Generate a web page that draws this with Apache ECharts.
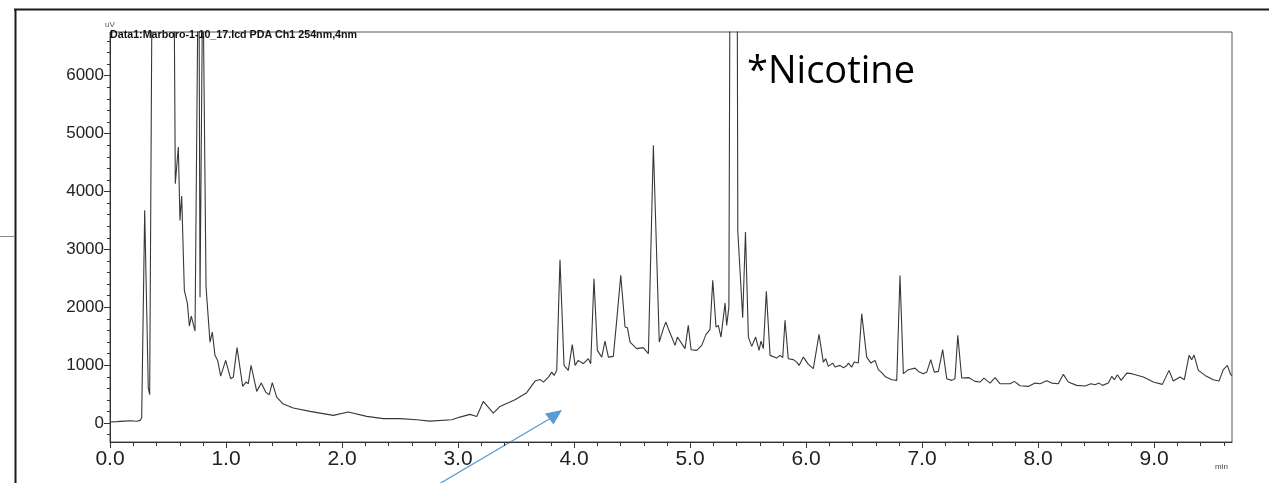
<!DOCTYPE html>
<html>
<head>
<meta charset="utf-8">
<title>Chromatogram 254 nm</title>
<script src="https://cdn.jsdelivr.net/npm/echarts@6/dist/echarts.min.js"></script>
<style>
  html, body { margin: 0; padding: 0; background: #ffffff; }
  #chart { width: 1269px; height: 483px; }
</style>
</head>
<body>
<div id="chart"></div>
<script>
// Retention time (min) of each sampled point of the PDA trace
const retentionTimes = [
  0.000, 0.060, 0.120, 0.180, 0.230, 0.259, 0.273, 0.299, 0.330, 0.342,
  0.375, 0.420, 0.500, 0.548, 0.563, 0.589, 0.603, 0.618, 0.641, 0.667,
  0.684, 0.701, 0.733, 0.765, 0.776, 0.800, 0.828, 0.862, 0.882, 0.905,
  0.928, 0.954, 0.997, 1.040, 1.063, 1.095, 1.144, 1.172, 1.192, 1.216,
  1.265, 1.304, 1.342, 1.373, 1.399, 1.437, 1.489, 1.580, 1.724, 1.925,
  2.054, 2.213, 2.356, 2.500, 2.644, 2.759, 2.946, 3.017, 3.103, 3.161,
  3.218, 3.304, 3.362, 3.491, 3.592, 3.664, 3.707, 3.736, 3.779, 3.808,
  3.828, 3.851, 3.879, 3.914, 3.951, 3.985, 4.009, 4.037, 4.080, 4.123,
  4.144, 4.172, 4.201, 4.239, 4.267, 4.296, 4.339, 4.368, 4.403, 4.440,
  4.460, 4.483, 4.540, 4.597, 4.641, 4.684, 4.735, 4.770, 4.791, 4.813,
  4.842, 4.871, 4.891, 4.929, 4.957, 4.985, 5.009, 5.058, 5.101, 5.138,
  5.172, 5.196, 5.224, 5.244, 5.267, 5.302, 5.316, 5.335, 5.380, 5.412,
  5.454, 5.478, 5.503, 5.532, 5.566, 5.595, 5.612, 5.632, 5.658, 5.690,
  5.747, 5.776, 5.799, 5.819, 5.847, 5.891, 5.920, 5.940, 5.977, 6.020,
  6.063, 6.112, 6.149, 6.170, 6.192, 6.230, 6.250, 6.293, 6.322, 6.351,
  6.365, 6.394, 6.416, 6.451, 6.480, 6.523, 6.560, 6.595, 6.623, 6.653,
  6.681, 6.739, 6.782, 6.810, 6.839, 6.882, 6.940, 6.968, 7.011, 7.041,
  7.075, 7.106, 7.141, 7.155, 7.178, 7.213, 7.256, 7.284, 7.308, 7.342,
  7.405, 7.457, 7.500, 7.534, 7.586, 7.629, 7.672, 7.759, 7.796, 7.845,
  7.916, 7.974, 8.017, 8.075, 8.118, 8.175, 8.218, 8.261, 8.333, 8.405,
  8.457, 8.491, 8.526, 8.555, 8.606, 8.635, 8.658, 8.684, 8.716, 8.765,
  8.808, 8.908, 8.994, 9.072, 9.129, 9.166, 9.224, 9.261, 9.302, 9.325,
  9.345, 9.382, 9.440, 9.511, 9.560, 9.597, 9.632, 9.661, 9.672
];

// Detector signal (uV) at each retention time; off-scale peaks exceed the axis top
const signal = [
  15, 22, 30, 38, 28, 43, 90, 3670, 600, 487,
  12000, 15000, 12000, 9000, 4131, 4763, 3497, 3917, 2288, 2064,
  1672, 1845, 1585, 9000, 2170, 8000, 2345, 1395, 1568, 1166,
  1079, 808, 1079, 763, 791, 1299, 630, 705, 677, 993,
  544, 687, 532, 487, 694, 446, 332, 256, 199, 130,
  187, 112, 73, 73, 55, 31, 55, 100, 147, 112,
  371, 169, 285, 401, 522, 722, 751, 705, 791, 877,
  820, 907, 2819, 993, 907, 1351, 993, 1079, 1022, 1109,
  1022, 2490, 1252, 1136, 1413, 1136, 1149, 1770, 2547, 1655,
  1644, 1395, 1282, 1299, 1195, 4793, 1395, 1627, 1741, 1627,
  1482, 1339, 1482, 1368, 1282, 1684, 1264, 1252, 1339, 1528,
  1610, 2461, 1655, 1684, 1482, 2069, 1684, 2000, 30000, 3300,
  1817, 3295, 1482, 1321, 1482, 1252, 1413, 1282, 2271, 1166,
  1119, 1166, 1126, 1770, 1109, 1092, 1050, 993, 1136, 1010,
  936, 1528, 1050, 1109, 976, 1033, 964, 993, 953, 988,
  1033, 964, 1050, 1033, 1886, 1136, 1033, 1079, 919, 867,
  803, 746, 734, 2547, 850, 919, 946, 889, 850, 877,
  1092, 877, 889, 877, 1264, 763, 734, 763, 1511, 774,
  781, 717, 705, 774, 687, 781, 677, 677, 717, 642,
  630, 687, 677, 729, 687, 677, 838, 705, 648, 636,
  677, 660, 687, 648, 687, 803, 746, 832, 734, 860,
  850, 791, 705, 665, 907, 722, 791, 746, 1166, 1092,
  1171, 907, 820, 746, 722, 919, 993, 832, 820
];

// Axis ticks
const timeMajorTicks = [0, 1, 2, 3, 4, 5, 6, 7, 8, 9];
const timeMinorTicks = [0.2, 0.4, 0.6, 0.8, 1.2, 1.4, 1.6, 1.8, 2.2, 2.4, 2.6, 2.8, 3.2, 3.4, 3.6, 3.8,
  4.2, 4.4, 4.6, 4.8, 5.2, 5.4, 5.6, 5.8, 6.2, 6.4, 6.6, 6.8, 7.2, 7.4, 7.6, 7.8,
  8.2, 8.4, 8.6, 8.8, 9.2, 9.4, 9.6];
const signalMajorTicks = [0, 1000, 2000, 3000, 4000, 5000, 6000];
const signalMinorTicks = [-200, 200, 400, 600, 800, 1200, 1400, 1600, 1800, 2200, 2400, 2600, 2800,
  3200, 3400, 3600, 3800, 4200, 4400, 4600, 4800, 5200, 5400, 5600, 5800, 6200, 6400, 6600];

const traceTitle = 'Data1:Marboro-1-10_17.lcd PDA Ch1 254nm,4nm';
const peakNote = '*Nicotine';

const TIME_MAX = 9.672;
const SIGNAL_MIN = -330;
const SIGNAL_MAX = 6750;

const trace = retentionTimes.map((t, i) => [t, signal[i]]);

const axisColor = '#333333';
const font = 'Liberation Sans, Arial, sans-serif';

// short outward minor tick marks, positioned through the axis scales
function minorTickRenderer(side, len) {
  return function (params, api) {
    const p = api.coord([api.value(0), api.value(1)]);
    if (side === 'left') {
      const y = Math.round(p[1]) + 0.5;
      return { type: 'line', silent: true, shape: { x1: p[0] - len, y1: y, x2: p[0], y2: y },
        style: { stroke: axisColor, lineWidth: 1 } };
    }
    const x = Math.round(p[0]) + 0.5;
    return { type: 'line', silent: true, shape: { x1: x, y1: p[1], x2: x, y2: p[1] + len },
      style: { stroke: axisColor, lineWidth: 1 } };
  };
}

const chart = echarts.init(document.getElementById('chart'), null, { renderer: 'canvas' });

chart.setOption({
  animation: false,
  backgroundColor: '#ffffff',
  grid: {
    left: 110, right: 37, top: 32, bottom: 41,
    show: true, borderColor: '#555555', borderWidth: 1, backgroundColor: 'transparent'
  },
  title: [
    {
      text: traceTitle, left: 110, top: 30, padding: 0,
      textStyle: { fontFamily: font, fontSize: 10.7, fontWeight: 'bold', color: '#111111' }
    },
    {
      text: 'min', left: 1215, top: 463, padding: 0,
      textStyle: { fontFamily: font, fontSize: 8, fontWeight: 'normal', color: '#444444' }
    }
  ],
  xAxis: {
    type: 'value', min: 0, max: TIME_MAX,
    axisLine: { show: true, onZero: false, lineStyle: { color: axisColor, width: 1 } },
    axisTick: { show: true, customValues: timeMajorTicks, length: 6, lineStyle: { color: axisColor } },
    axisLabel: {
      customValues: timeMajorTicks, formatter: v => v.toFixed(1),
      fontFamily: font, fontSize: 21, color: '#222222', margin: 7
    },
    splitLine: { show: false }
  },
  yAxis: {
    type: 'value', min: SIGNAL_MIN, max: SIGNAL_MAX,
    name: 'uV', nameLocation: 'end', nameGap: 3,
    nameTextStyle: { fontFamily: font, fontSize: 8, color: '#555555', align: 'center' },
    axisLine: { show: true, onZero: false, lineStyle: { color: axisColor, width: 1 } },
    axisTick: { show: true, customValues: signalMajorTicks, length: 6, lineStyle: { color: axisColor } },
    axisLabel: {
      customValues: signalMajorTicks, formatter: v => String(v),
      fontFamily: font, fontSize: 17, color: '#222222', margin: 6
    },
    splitLine: { show: false }
  },
  series: [
    {
      type: 'line', name: 'PDA Ch1 254nm',
      data: trace, showSymbol: false, smooth: false, clip: true,
      lineStyle: { color: '#383838', width: 1.1 }
    },
    {
      type: 'custom', name: 'minor ticks y', silent: true, clip: false,
      data: signalMinorTicks.map(v => [0, v]),
      renderItem: minorTickRenderer('left', 3)
    },
    {
      type: 'custom', name: 'minor ticks x', silent: true, clip: false,
      data: timeMinorTicks.map(t => [t, SIGNAL_MIN]),
      renderItem: minorTickRenderer('bottom', 4)
    }
  ],
  graphic: [
    // slide frame around the chart
    { type: 'line', silent: true, shape: { x1: 14, y1: 9.5, x2: 1269, y2: 9.5 }, style: { stroke: '#1a1a1a', lineWidth: 2 } },
    { type: 'line', silent: true, shape: { x1: 15.5, y1: 9, x2: 15.5, y2: 483 }, style: { stroke: '#1a1a1a', lineWidth: 2 } },
    { type: 'line', silent: true, shape: { x1: 0, y1: 236.5, x2: 15, y2: 236.5 }, style: { stroke: '#8a8a8a', lineWidth: 1 } },
    // annotation arrow
    { type: 'line', silent: true, shape: { x1: 439, y1: 484, x2: 551, y2: 418 }, style: { stroke: '#5B9BD5', lineWidth: 1.3 } },
    { type: 'polygon', silent: true, shape: { points: [[562, 410], [545, 413.5], [553.5, 424.5]] }, style: { fill: '#5B9BD5' } },
    // peak note
    {
      type: 'text', silent: true, x: 747, y: 72,
      style: { text: peakNote, font: '38px "Open Sans", "Noto Sans", sans-serif', fill: '#000000', textVerticalAlign: 'middle', textAlign: 'left' }
    }
  ]
});
</script>
</body>
</html>
